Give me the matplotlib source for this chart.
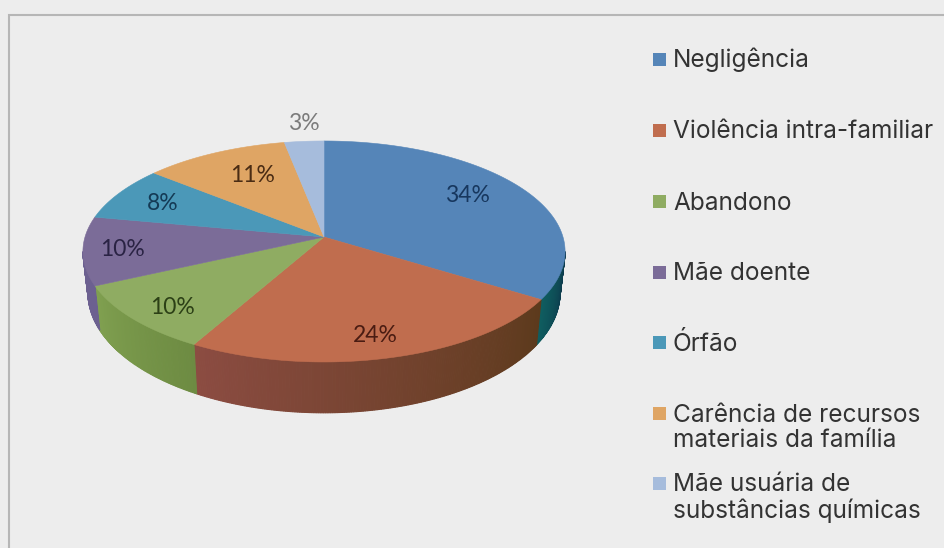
"""Pie chart in 3D perspective: reasons for child placement."""

import numpy as np
import matplotlib
matplotlib.use("Agg")
import matplotlib.pyplot as plt
from matplotlib.colors import to_rgb
from matplotlib.patches import Rectangle

categories = [
    "Negligência",
    "Violência intra-familiar",
    "Abandono",
    "Mãe doente",
    "Órfão",
    "Carência de recursos\nmateriais da família",
    "Mãe usuária de\nsubstâncias químicas",
]
values = [34, 24, 10, 10, 8, 11, 3]
top_colors = ["#5585b8", "#c06d4e", "#8fac62", "#7b6c98", "#4b98b8", "#dfa564", "#a6bcdc"]
# Wall shade at the clockwise start and end of each slice
wall_start = ["#0c3348", "#5c3a1c", "#6d8b42", "#6c6090", "#000000", "#000000", "#000000"]
wall_end = ["#0f5e60", "#8c4c42", "#80a050", "#6c6090", "#000000", "#000000", "#000000"]
label_colors = ["#17375e", "#4a1c12", "#2c4016", "#2a2344", "#143a55", "#4a2c14", "#7b7b7b"]

# Pie geometry in pixels
CX, CY = 324, 237
RX, RY = 239, 108.6
PERSP = 0.131
DROP, RY_LOW, RX_LOW = 40, 118, 234

BG = "#ededed"


def project(theta, low=False):
    """Map clockwise-from-top angle (radians) to the tilted disc."""
    c, s = np.sin(theta), np.cos(theta)
    d = 1 + PERSP * s
    if low:
        return CX + RX_LOW * c / d, CY + DROP - RY_LOW * s / d
    return CX + RX * c / d, CY - RY * s / d


def mix(a, b, t):
    a, b = np.array(to_rgb(a)), np.array(to_rgb(b))
    return a + (b - a) * t


fig = plt.figure(figsize=(9.44, 5.48), dpi=100, facecolor=BG)
ax = fig.add_axes([0, 0, 1, 1])
ax.set_xlim(0, 944)
ax.set_ylim(548, 0)
ax.axis("off")

# Chart frame: only the top and left sides are in view
ax.plot([8.5, 8.5, 944], [548, 14.5, 14.5], color="#b6b6b6", lw=1.5, solid_joinstyle="miter")

edges = np.deg2rad(np.cumsum([0] + values) / sum(values) * 360)
# Front of the wall runs between the widest points of the disc
front_start = np.arccos(-PERSP)
front_end = 2 * np.pi - front_start

# Side wall, drawn as thin strips so the shade can change along the arc
for i in range(len(values)):
    a0, a1 = max(edges[i], front_start), min(edges[i + 1], front_end)
    if a1 <= a0:
        continue
    steps = max(int(np.degrees(a1 - a0) * 2), 2)
    th = np.linspace(a0, a1, steps + 1)
    for j in range(steps):
        col = mix(wall_start[i], wall_end[i], (j + 0.5) / steps)
        x0, y0 = project(th[j:j + 2])
        x1, y1 = project(th[j:j + 2], low=True)
        ax.fill(np.r_[x0, x1[::-1]], np.r_[y0, y1[::-1]], fc=col, ec=col, lw=0.8)

# Top face
for i in range(len(values)):
    th = np.linspace(edges[i], edges[i + 1], 120)
    x, y = project(th)
    ax.fill(np.r_[CX, x], np.r_[CY, y], fc=top_colors[i], ec=top_colors[i], lw=0.4)

# Data labels
label_x = [467, 375, 172, 122, 163, 253, 304]
label_y = [195, 336, 307, 250, 203, 176, 124]
for v, lx, ly, col in zip(values, label_x, label_y, label_colors):
    ax.text(lx, ly, f"{v}%", ha="center", va="center", fontsize=16.5, color=col, family="Lato")

# Legend
marker_y = [59, 130, 201, 272, 342, 413, 483]
text_y = [60, 131, 203, 273, 344, 428, 498]
for name, col, ym, yt in zip(categories, top_colors, marker_y, text_y):
    ax.add_patch(Rectangle((653, ym - 6.5), 13, 13, fc=col, ec="none"))
    ax.text(673, yt, name, ha="left", va="center", fontsize=17.6, color="#333333",
            family="Inter", linespacing=1.13)

fig.savefig("out.png", dpi=100, facecolor=fig.get_facecolor())
